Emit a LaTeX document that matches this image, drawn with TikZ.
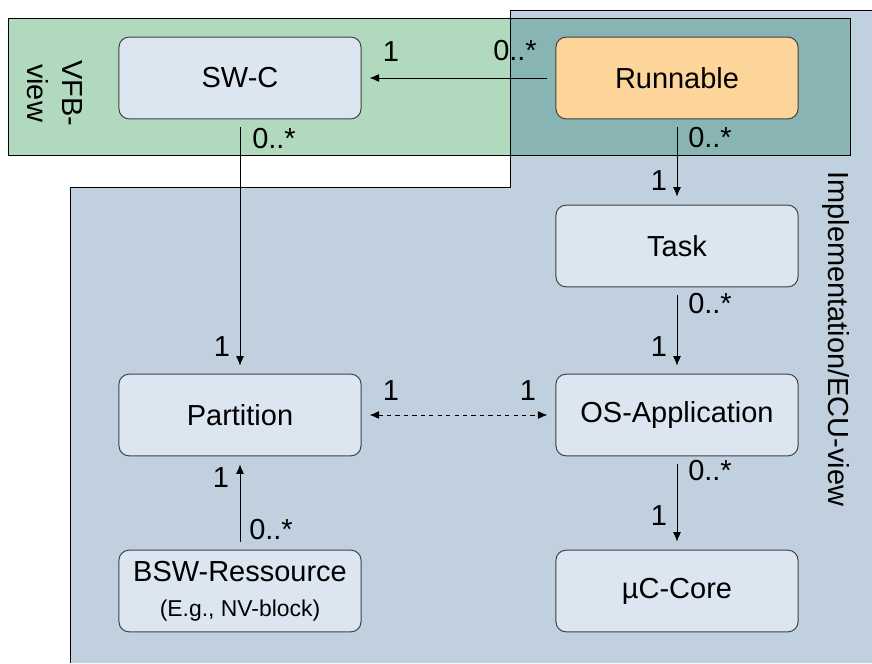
\documentclass[tikz,border=0pt]{standalone}
\usepackage{fontspec}
\setmainfont{Liberation Sans}
\usetikzlibrary{arrows.meta}

\definecolor{vfbGreen}{HTML}{B0D9BE}
\definecolor{overlapTeal}{HTML}{88B5B3}
\definecolor{ecuBlue}{HTML}{C0D0DF}
\definecolor{boxFill}{HTML}{DCE6F1}
\definecolor{boxLine}{HTML}{404040}
\definecolor{runOrange}{HTML}{FDD59A}

\newcommand{\bigtext}{\fontsize{20.6}{25}\selectfont}
\newcommand{\smalltext}{\fontsize{16.3}{20}\selectfont}

\begin{document}
\begin{tikzpicture}[x=0.025cm, y=-0.025cm,
	box/.style={draw=boxLine, fill=boxFill, line width=0.7pt, rounded corners=0.25cm, minimum width=6.05cm, minimum height=2.04cm, inner sep=0pt, align=center, font=\bigtext},
	link/.style={line width=0.7pt, -{Latex[length=6.8pt,width=5.7pt]}, shorten <=5.7pt, shorten >=5.7pt},
	dlink/.style={link, dashed, {Latex[length=6.8pt,width=5.7pt]}-{Latex[length=6.8pt,width=5.7pt]}},
	mult/.style={inner sep=0pt, font=\bigtext},
	region/.style={line width=0.7pt}]

% Define canvas.

	\useasboundingbox (0,0) rectangle (872,663);

% Colour in.

	\fill[ecuBlue] (70,663) -- (70,187) -- (510,187) -- (510,10) -- (872,10) -- (872,663) -- cycle;
	\fill[vfbGreen] (8,18) rectangle (510,155);
	\fill[overlapTeal] (510,18) rectangle (850,155);

% Draw region borders.

	\draw[region] (70,663) -- (70,187) -- (510,187) -- (510,10) -- (872,10);
	\draw[region] (8,18) rectangle (850,155);

% Draw region labels.

	\node[font=\bigtext, rotate=-90, align=center] (vfbLabel) at (55,93) {VFB-\\view};
	\node[font=\bigtext, rotate=-90, anchor=base] (ecuLabel) at (828,339) {Implementation/ECU-view};

% Draw boxes.

	\node[box] (swc) at (240,78) {SW-C};
	\node[box, fill=runOrange] (runnable) at (677,78) {Runnable};
	\node[box] (task) at (677,246) {Task};
	\node[box] (osapp) at (677,415) {OS-Application};
	\node[box] (core) at (677,591) {µC-Core};
	\node[box] (partition) at (240,415) {Partition};
	\node[box] (bsw) at (240,591) {BSW-Ressource\\{\smalltext (E.g., NV-block)}};

% Draw links.

	\draw[link] (runnable) -- (swc);
	\draw[link] (swc) -- (partition);
	\draw[link] (runnable) -- (task);
	\draw[link] (task) -- (osapp);
	\draw[link] (osapp) -- (core);
	\draw[link] (bsw) -- (partition);
	\draw[dlink] (partition) -- (osapp);

% Draw multiplicities.

	\node[mult] (swcOne) at (391,52) {1};
	\node[mult] (runMany) at (515,51) {0..*};
	\node[mult] (swcMany) at (274,139) {0..*};
	\node[mult] (partTop) at (222,347) {1};
	\node[mult] (runTaskMany) at (710,138) {0..*};
	\node[mult] (taskOne) at (659,181) {1};
	\node[mult] (taskMany) at (710,304) {0..*};
	\node[mult] (osOne) at (659,347) {1};
	\node[mult] (osMany) at (710,471) {0..*};
	\node[mult] (coreOne) at (659,516) {1};
	\node[mult] (partRight) at (391,391) {1};
	\node[mult] (osLeft) at (528,391) {1};
	\node[mult] (partBottom) at (221,478) {1};
	\node[mult] (bswMany) at (271,530) {0..*};

\end{tikzpicture}
\end{document}
